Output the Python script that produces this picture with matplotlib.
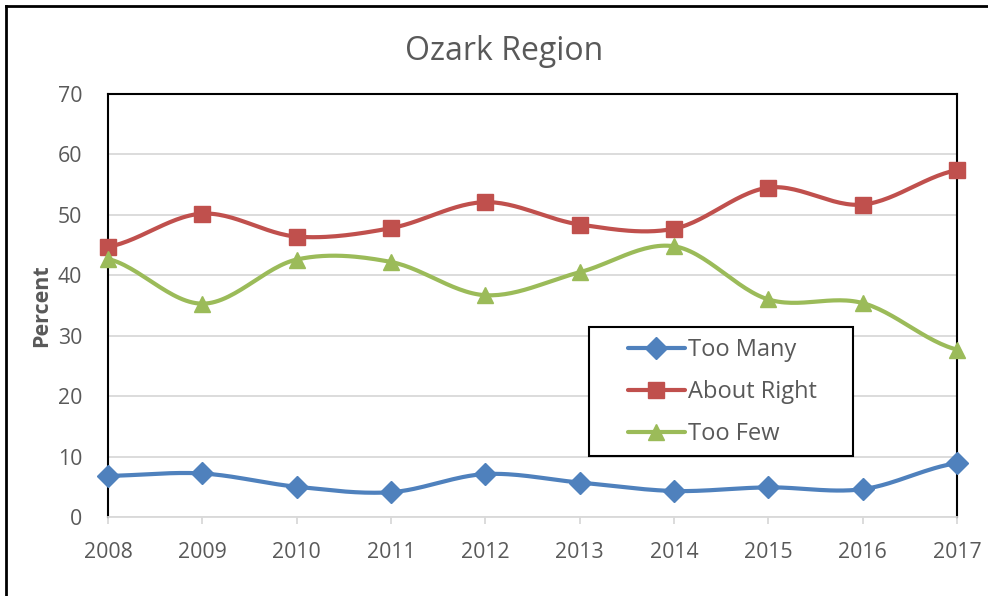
import numpy as np
import matplotlib.pyplot as plt
from matplotlib.lines import Line2D
from matplotlib.patches import Rectangle

years = [2008, 2009, 2010, 2011, 2012, 2013, 2014, 2015, 2016, 2017]
too_many = [6.8, 7.2, 5.0, 4.1, 7.1, 5.7, 4.3, 4.9, 4.6, 8.9]
about_right = [44.7, 50.2, 46.4, 47.8, 52.1, 48.4, 47.7, 54.5, 51.7, 57.4]
too_few = [42.7, 35.3, 42.6, 42.2, 36.7, 40.5, 44.8, 36.0, 35.4, 27.7]

labels = ['Too Many', 'About Right', 'Too Few']
colors = ['#4F81BD', '#C0504D', '#9BBB59']
markers = ['D', 's', '^']
msizes = [11, 12, 12]
txt = '#595959'

plt.rcParams['font.family'] = ['Open Sans', 'DejaVu Sans']


def smooth(x, y, n=30):
    # catmull-rom style smoothing like Excel's smoothed line
    x = np.asarray(x, float)
    y = np.asarray(y, float)
    px = np.concatenate([[2 * x[0] - x[1]], x, [2 * x[-1] - x[-2]]])
    py = np.concatenate([[y[0]], y, [y[-1]]])
    xs, ys = [], []
    t = np.linspace(0, 1, n)
    for i in range(1, len(px) - 2):
        p0, p1, p2, p3 = py[i - 1], py[i], py[i + 1], py[i + 2]
        c1 = p1 + (p2 - p0) / 6
        c2 = p2 - (p3 - p1) / 6
        yy = (1 - t) ** 3 * p1 + 3 * (1 - t) ** 2 * t * c1 + 3 * (1 - t) * t ** 2 * c2 + t ** 3 * p2
        xx = px[i] + (px[i + 1] - px[i]) * t
        xs.extend(xx)
        ys.extend(yy)
    return np.array(xs), np.array(ys)


fig = plt.figure(figsize=(9.88, 5.96), dpi=100)
ax = fig.add_axes([0.1093, 0.1326, 0.8593, 0.7097])

series = [too_many, about_right, too_few]
handles = []
for vals, lab, c, m, ms in zip(series, labels, colors, markers, msizes):
    sx, sy = smooth(years, vals)
    ax.plot(sx, sy, color=c, lw=3, solid_capstyle='round', zorder=3)
    ax.plot(years, vals, linestyle='none', marker=m, ms=ms, color=c, zorder=4, clip_on=False)
    handles.append(Line2D([0], [0], color=c, lw=3, marker=m, ms=ms, solid_capstyle='round'))

ax.set_xlim(2008, 2017)
ax.set_ylim(0, 70)
ax.set_xticks(years)
ax.set_yticks(range(0, 71, 10))
ax.grid(axis='y', color='#D9D9D9', lw=1.3, zorder=1)
ax.set_axisbelow(True)

for s in ['left', 'top', 'right']:
    ax.spines[s].set_color('black')
    ax.spines[s].set_linewidth(1.5)
ax.spines['bottom'].set_color('#D9D9D9')
ax.spines['bottom'].set_linewidth(1.3)

ax.tick_params(axis='x', direction='out', length=5, width=1.3, color='#D9D9D9',
               labelsize=15.3, labelcolor=txt, pad=13)
ax.tick_params(axis='y', length=0, labelsize=15.3, labelcolor=txt, pad=18.5)

ax.set_ylabel('Percent', fontsize=15.5, fontweight='bold', color=txt, labelpad=4)
fig.text(0.51, 0.913, 'Ozark Region', ha='center', va='center', fontsize=23, color=txt)

# legend frame drawn separately to get Excel's wide left padding
ax.add_patch(Rectangle((0.5962, 0.2349), 0.2672, 0.2164, transform=fig.transFigure,
                       facecolor='white', edgecolor='black', lw=1.5, zorder=5, clip_on=False))
leg = ax.legend(handles, labels, loc='center left', bbox_to_anchor=(0.6356, 0.3423),
                bbox_transform=fig.transFigure, fontsize=17, frameon=False,
                handlelength=2.4, handletextpad=0.15, labelspacing=0.76,
                borderpad=0, borderaxespad=0)
leg.set_zorder(6)
for t in leg.get_texts():
    t.set_color(txt)

fig.add_artist(Line2D([0.006, 0.006], [0, 0.99], transform=fig.transFigure, color='black', lw=2))
fig.add_artist(Line2D([0.006, 1], [0.99, 0.99], transform=fig.transFigure, color='black', lw=2))

fig.savefig('out.png', dpi=100)
